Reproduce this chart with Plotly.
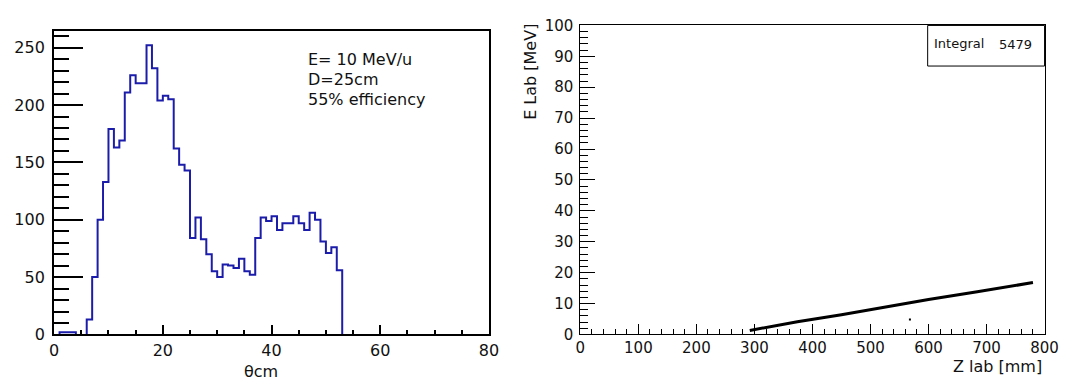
import plotly.graph_objects as go

# ---------------- data ----------------
# Left: histogram of theta_cm, 1-degree bins from 0 to 80
theta_bin_low = list(range(0, 80))
bin_width = 1
theta_counts = [0, 2, 2, 2, 0, 0, 13, 50, 100, 133,
                179, 163, 169, 211, 226, 219, 219, 252, 232, 204,
                208, 205, 162, 148, 143, 84, 102, 83, 70, 55,
                50, 61, 60, 58, 66, 55, 52, 84, 102, 99,
                103, 91, 97, 97, 103, 97, 91, 106, 100, 81,
                71, 76, 56] + [0] * 27

# Right: E lab vs Z lab locus
z_lab = [292, 374, 450, 532, 600, 684, 780]
e_lab = [1.3, 4.1, 6.4, 9.1, 11.3, 13.8, 16.8]
z_stray = [568]
e_stray = [4.8]

info_lines = ["E= 10 MeV/u", "D=25cm", "55% efficiency"]
integral_label = "Integral"
integral_value = "5479"

left_xticks = [0, 20, 40, 60, 80]
right_xticks = [0, 100, 200, 300, 400, 500, 600, 700, 800]

# ---------------- figure ----------------
W, H = 1073, 386
FONT = "DejaVu Sans"

def px(x):
    return x / W

def py(y):
    return (H - y) / H

fig = go.Figure()

# histogram outline (ROOT-style step), runs of empty bins left undrawn
xs, ys = [], []
prev = 0
for lo, v in zip(theta_bin_low, theta_counts):
    if v == 0:
        if prev != 0:
            xs += [lo, None]
            ys += [0, None]
        prev = 0
        continue
    if prev == 0:
        xs.append(lo)
        ys.append(0)
    xs += [lo, lo + bin_width]
    ys += [v, v]
    prev = v
if prev != 0:
    xs.append(theta_bin_low[-1] + bin_width)
    ys.append(0)

fig.add_trace(go.Scatter(x=xs, y=ys, mode="lines",
                         line=dict(color="#1c1caa", width=2),
                         connectgaps=False,
                         xaxis="x", yaxis="y", showlegend=False,
                         hoverinfo="skip"))

fig.add_trace(go.Scatter(x=z_lab, y=e_lab, mode="lines",
                         line=dict(color="black", width=3),
                         xaxis="x2", yaxis="y2", showlegend=False))
fig.add_trace(go.Scatter(x=z_stray, y=e_stray, mode="markers",
                         marker=dict(color="black", size=2, symbol="square"),
                         xaxis="x2", yaxis="y2", showlegend=False))

tickfont = dict(family=FONT, size=16, color="#111")

common = dict(showgrid=False, zeroline=False, showline=True, mirror=True,
              linecolor="black", ticks="inside", tickcolor="black",
              layer="above traces")

fig.update_layout(
    width=W, height=H,
    margin=dict(l=0, r=0, t=0, b=0),
    paper_bgcolor="white", plot_bgcolor="white",
    xaxis=dict(domain=[px(50), px(492.7)], range=[0, 80],
               tickvals=left_xticks, ticklen=9, tickwidth=1.5,
               linewidth=2, anchor="y", tickfont=tickfont,
               minor=dict(dtick=5, tick0=0, ticklen=4, ticks="inside",
                          tickcolor="black", tickwidth=1.5, showgrid=False),
               **common),
    yaxis=dict(domain=[py(342.3), py(23.3)], range=[0, 264.4],
               dtick=50, tick0=0, ticklen=29, tickwidth=1.5,
               linewidth=2, anchor="x", ticklabelstandoff=4, tickfont=tickfont,
               minor=dict(dtick=10, tick0=0, ticklen=15, ticks="inside",
                          tickcolor="black", tickwidth=1.5, showgrid=False),
               **common),
    xaxis2=dict(domain=[px(585.7), px(1058.3)], range=[0, 800],
                tickvals=right_xticks, ticklen=10, tickwidth=1,
                linewidth=1, anchor="y2",
                tickfont=dict(family=FONT, size=15, color="#111"),
                minor=dict(dtick=20, tick0=0, ticklen=5, ticks="inside",
                           tickcolor="black", tickwidth=1, showgrid=False),
                **common),
    yaxis2=dict(domain=[py(342.3), py(17.3)], range=[0, 100],
                dtick=10, tick0=0, ticklen=15, tickwidth=1,
                linewidth=1, anchor="x2", ticklabelstandoff=3,
                tickfont=dict(family=FONT, size=15, color="#111"),
                minor=dict(dtick=2, tick0=0, ticklen=8, ticks="inside",
                           tickcolor="black", tickwidth=1, showgrid=False),
                **common),
)

annotations = []
# info text in left panel
for i, t in enumerate(info_lines):
    annotations.append(dict(text=t, xref="paper", yref="paper",
                            x=px(306), y=py(53.5 + 21 * i),
                            xanchor="left", yanchor="middle", showarrow=False,
                            font=dict(family=FONT, size=16, color="#111")))
# axis titles
annotations.append(dict(text="θcm", xref="paper", yref="paper",
                        x=px(261), y=py(369), xanchor="center", yanchor="top",
                        showarrow=False,
                        font=dict(family=FONT, size=16, color="#111")))
annotations.append(dict(text="E Lab [MeV]", xref="paper", yref="paper",
                        x=px(535), y=py(14), xanchor="center", yanchor="top",
                        textangle=-90, showarrow=False,
                        font=dict(family=FONT, size=16, color="#111")))
annotations.append(dict(text="Z lab [mm]", xref="paper", yref="paper",
                        x=px(1058), y=py(376), xanchor="right", yanchor="middle",
                        showarrow=False,
                        font=dict(family=FONT, size=16, color="#111")))
# stats box text
annotations.append(dict(text=integral_label, xref="paper", yref="paper",
                        x=px(944), y=py(36), xanchor="left", yanchor="middle",
                        showarrow=False,
                        font=dict(family=FONT, size=13, color="#111")))
annotations.append(dict(text=integral_value, xref="paper", yref="paper",
                        x=px(1048), y=py(37), xanchor="right", yanchor="middle",
                        showarrow=False,
                        font=dict(family=FONT, size=13, color="#111")))
fig.update_layout(annotations=annotations)

fig.add_shape(type="rect", xref="paper", yref="paper",
              x0=px(939.3), x1=px(1058.3), y0=py(60), y1=py(17.3),
              line=dict(color="black", width=1), fillcolor="white",
              layer="above")

fig.write_html("out.html", config={"displayModeBar": False})
